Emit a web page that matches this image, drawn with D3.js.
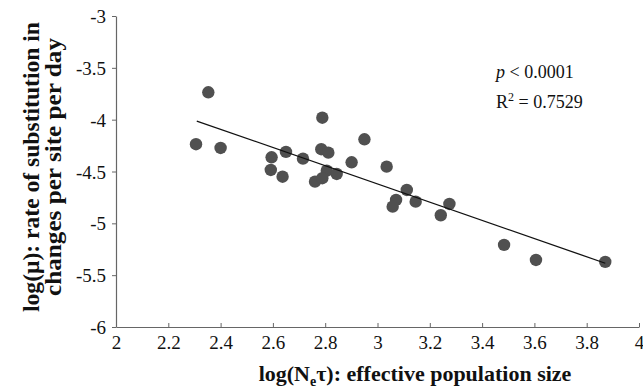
<!DOCTYPE html>
<html>
<head>
<meta charset="utf-8">
<script src="https://cdn.jsdelivr.net/npm/d3@7"></script>
<style>
  body { margin: 0; background: #fff; }
  svg { display: block; font-family: "Liberation Serif", "DejaVu Serif", serif; }
</style>
</head>
<body>
<div id="chart"></div>
<script>
// log(Ne*tau) vs log(mu)
const logNeTau = [2.353, 2.789, 2.306, 2.400, 2.950, 2.595, 2.650, 2.715, 2.785, 2.812,
                  2.901, 2.592, 2.637, 2.806, 2.844, 2.761, 2.789, 3.035, 3.112, 3.071,
                  3.058, 3.146, 3.275, 3.242, 3.484, 3.606, 3.871];
const logMu = [-3.736, -3.981, -4.237, -4.273, -4.189, -4.363, -4.311, -4.376, -4.285, -4.318,
               -4.411, -4.485, -4.550, -4.492, -4.524, -4.598, -4.565, -4.453, -4.678, -4.774,
               -4.839, -4.791, -4.813, -4.922, -5.208, -5.353, -5.372];
const trendX = [2.309, 3.871];
const trendY = [-4.013, -5.385];
const xTicks = [2, 2.2, 2.4, 2.6, 2.8, 3, 3.2, 3.4, 3.6, 3.8, 4];
const yTicks = [-3, -3.5, -4, -4.5, -5, -5.5, -6];

const width = 643, height = 390;
const margin = { top: 16, right: 4, bottom: 63, left: 116 };

const svg = d3.select("#chart").append("svg")
    .attr("width", width)
    .attr("height", height);

const x = d3.scaleLinear().domain([2, 4]).range([margin.left, width - margin.right]);
const y = d3.scaleLinear().domain([-6, -3]).range([height - margin.bottom, margin.top]);

// axes (plain hyphen minus like the original)
const fmt = d => String(d);
const xAxis = svg.append("g")
    .attr("transform", `translate(0,${y(-6)})`)
    .call(d3.axisBottom(x).tickValues(xTicks).tickFormat(fmt).tickSizeInner(-4).tickSizeOuter(0).tickPadding(8));
const yAxis = svg.append("g")
    .attr("transform", `translate(${x(2)},0)`)
    .call(d3.axisLeft(y).tickValues(yTicks).tickFormat(fmt).tickSizeInner(4).tickSizeOuter(0).tickPadding(6));

[xAxis, yAxis].forEach(g => {
    g.attr("font-family", "Liberation Serif, serif").attr("font-size", 19);
    g.select(".domain").attr("stroke", "#666").attr("stroke-width", 1.2);
    g.selectAll(".tick line").attr("stroke", "#666");
    g.selectAll(".tick text").attr("fill", "#111");
});
xAxis.selectAll(".tick text").attr("dy", "0.75em");
yAxis.selectAll(".tick text").attr("dy", "0.35em");

// points
svg.append("g").selectAll("circle")
    .data(logNeTau.map((d, i) => ({ x: d, y: logMu[i] })))
    .join("circle")
    .attr("cx", d => x(d.x))
    .attr("cy", d => y(d.y))
    .attr("r", 6.2)
    .attr("fill", "#505050");

// trend line
svg.append("path")
    .datum(trendX.map((d, i) => [d, trendY[i]]))
    .attr("fill", "none")
    .attr("stroke", "#111")
    .attr("stroke-width", 1.3)
    .attr("d", d3.line().x(d => x(d[0])).y(d => y(d[1])));

// stats annotation
const ann = svg.append("g").attr("font-size", 18).attr("fill", "#111");
const t1 = ann.append("text").attr("x", 496).attr("y", 78);
t1.append("tspan").attr("font-style", "italic").text("p");
t1.append("tspan").text(" < 0.0001");
const t2 = ann.append("text").attr("x", 496).attr("y", 108);
t2.append("tspan").text("R");
t2.append("tspan").attr("font-size", 12).attr("dy", -7).text("2");
t2.append("tspan").attr("dy", 7).text(" = 0.7529");

// axis titles
const xt = svg.append("text")
    .attr("x", 415).attr("y", 381)
    .attr("text-anchor", "middle")
    .attr("font-weight", "bold")
    .attr("font-size", 22)
    .attr("fill", "#111");
xt.append("tspan").text("log(N");
xt.append("tspan").attr("font-size", 14).attr("dy", 5).text("e");
xt.append("tspan").attr("dy", -5).text("τ): effective population size");

const yt = svg.append("g")
    .attr("transform", "translate(0,167) rotate(-90)")
    .attr("font-weight", "bold")
    .attr("font-size", 23)
    .attr("fill", "#111")
    .attr("text-anchor", "middle");
yt.append("text").attr("x", 0).attr("y", 39)
    .attr("textLength", 290).attr("lengthAdjust", "spacingAndGlyphs")
    .text("log(μ): rate of substitution in");
yt.append("text").attr("x", 0).attr("y", 61)
    .attr("textLength", 258).attr("lengthAdjust", "spacingAndGlyphs")
    .text("changes per site per day");
</script>
</body>
</html>
